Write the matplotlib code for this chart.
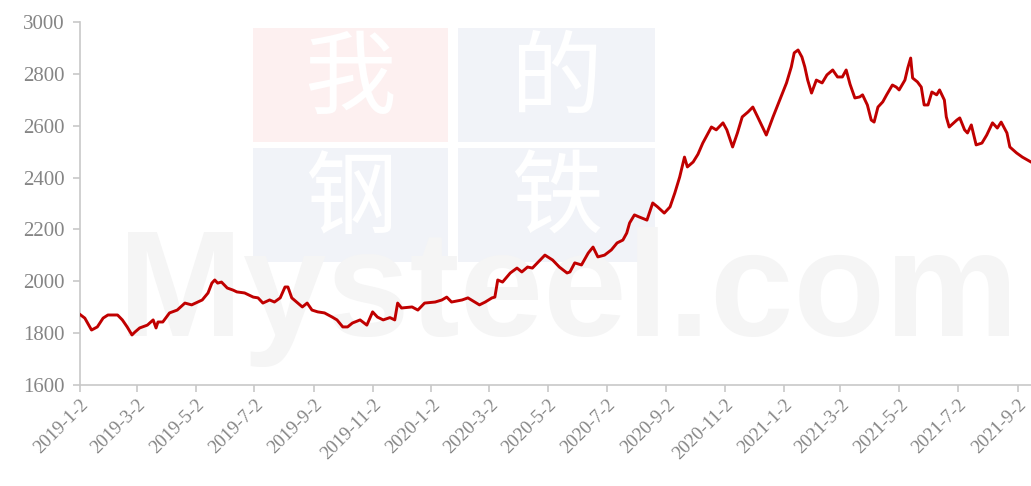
import numpy as np
import pandas as pd
import matplotlib
matplotlib.use('Agg')
import matplotlib.pyplot as plt
import matplotlib.dates as mdates
from matplotlib.patches import Rectangle

# days after 2019-01-02 and the price
day_offset = [0, 5, 12, 18, 24, 29, 39, 44, 49, 54,
              57, 62, 70, 76, 79, 81, 86, 93, 101, 109,
              116, 127, 133, 137, 140, 143, 147, 153, 159, 163,
              171, 180, 185, 190, 197, 202, 208, 213, 216, 220,
              225, 231, 236, 241, 247, 254, 262, 267, 273, 278,
              283, 291, 298, 304, 309, 315, 322, 327, 330, 334,
              345, 351, 358, 369, 376, 381, 386, 397, 403, 410,
              415, 421, 428, 431, 434, 439, 447, 454, 459, 465,
              470, 476, 483, 491, 498, 506, 509, 514, 521, 528,
              533, 538, 545, 552, 558, 564, 568, 571, 576, 581,
              589, 595, 600, 607, 613, 618, 623, 628, 631, 637,
              642, 647, 656, 661, 668, 672, 678, 683, 688, 694,
              699, 704, 709, 713, 720, 727, 734, 739, 742, 746,
              750, 753, 756, 760, 765, 771, 776, 782, 787, 792,
              796, 800, 805, 810, 813, 818, 822, 825, 829, 834,
              838, 844, 848, 851, 857, 860, 863, 865, 870, 874,
              877, 881, 885, 890, 893, 898, 900, 903, 911, 914,
              919, 922, 926, 931, 937, 942, 948, 953, 957, 963,
              966, 973, 979, 988]

price = [1872, 1858, 1812, 1824, 1858, 1870, 1870, 1851, 1824, 1793,
         1804, 1820, 1831, 1851, 1820, 1843, 1843, 1878, 1889, 1916,
         1909, 1928, 1955, 1993, 2005, 1993, 1997, 1974, 1966, 1959,
         1955, 1939, 1936, 1916, 1928, 1920, 1936, 1978, 1978, 1936,
         1920, 1901, 1916, 1889, 1882, 1878, 1862, 1851, 1824, 1824,
         1839, 1851, 1831, 1882, 1862, 1851, 1860, 1851, 1916, 1897,
         1901, 1889, 1916, 1920, 1928, 1939, 1920, 1928, 1936, 1920,
         1909, 1920, 1936, 1939, 2005, 1997, 2032, 2051, 2036, 2055,
         2051, 2074, 2101, 2082, 2055, 2032, 2036, 2071, 2063, 2109,
         2132, 2094, 2101, 2121, 2148, 2159, 2186, 2225, 2256, 2248,
         2236, 2302, 2287, 2263, 2287, 2341, 2402, 2479, 2441, 2460,
         2490, 2533, 2595, 2584, 2611, 2584, 2518, 2572, 2634, 2653,
         2672, 2634, 2595, 2564, 2634, 2699, 2765, 2827, 2881, 2892,
         2865, 2827, 2776, 2726, 2776, 2765, 2796, 2815, 2788, 2788,
         2815, 2760, 2707, 2711, 2719, 2680, 2622, 2614, 2672, 2692,
         2719, 2757, 2749, 2738, 2776, 2823, 2861, 2784, 2769, 2749,
         2680, 2680, 2730, 2719, 2738, 2699, 2634, 2595, 2622, 2630,
         2584, 2572, 2603, 2526, 2533, 2564, 2611, 2591, 2614, 2572,
         2518, 2495, 2479, 2460]

yticks = [1600, 1800, 2000, 2200, 2400, 2600, 2800, 3000]
tick_dates = [pd.Timestamp(y, m, 2) for y in (2019, 2020, 2021)
              for m in (1, 3, 5, 7, 9, 11) if not (y == 2021 and m == 11)]

start = pd.Timestamp('2019-01-02')
dates = start + pd.to_timedelta(day_offset, unit='D')

W, H = 1031, 486
fig = plt.figure(figsize=(W / 100, H / 100), dpi=100)

def fx(px):
    return px / W

def fy(py):
    return 1 - py / H

# faint watermark behind the chart
for (x0, y0, x1, y1), col, ch in [((253, 28, 448, 142), '#fdf0f0', '我'),
                                   ((458, 28, 655, 142), '#f1f3f8', '的'),
                                   ((253, 148, 448, 262), '#f1f3f8', '钢'),
                                   ((458, 148, 655, 262), '#f1f3f8', '铁')]:
    fig.add_artist(Rectangle((fx(x0), fy(y1)), fx(x1) - fx(x0), fy(y0) - fy(y1),
                             transform=fig.transFigure, color=col, zorder=0, lw=0))
    fig.text(fx((x0 + x1) / 2), fy((y0 + y1) / 2 - 4), ch, color='white', fontsize=66,
             family=['Noto Sans CJK SC'], ha='center', va='center', zorder=0.5)
fig.text(fx(118), fy(336), 'Mysteel.com', color='#f5f5f5', fontsize=108,
         family='Liberation Sans', weight='bold', ha='left', va='baseline', zorder=0.6)

ax = fig.add_axes([fx(80), fy(385), 1 - fx(80), fy(22) - fy(385)])
ax.set_facecolor('none')
ax.set_zorder(2)

ax.plot(dates, price, color='#c00000', lw=2.1, zorder=3)

ax.set_ylim(1600, 3000)
ax.set_yticks(yticks)
ax.set_xlim(start, start + pd.Timedelta(days=988))
ax.set_xticks(tick_dates)
ax.set_xticklabels([f'{d.year}-{d.month}-{d.day}' for d in tick_dates],
                   rotation=45, ha='right', rotation_mode='anchor')

for s in ['top', 'right']:
    ax.spines[s].set_visible(False)
for s in ['left', 'bottom']:
    ax.spines[s].set_color('#c8c8c8')
    ax.spines[s].set_linewidth(1.2)

ax.tick_params(axis='both', colors='#c8c8c8', length=5, width=1.2)
ax.tick_params(axis='y', labelsize=15, labelcolor='#858585', pad=6)
ax.tick_params(axis='x', labelsize=13.5, labelcolor='#858585', pad=3)
for lab in ax.get_yticklabels() + ax.get_xticklabels():
    lab.set_family('Liberation Serif')

fig.savefig('out.png', dpi=100)
